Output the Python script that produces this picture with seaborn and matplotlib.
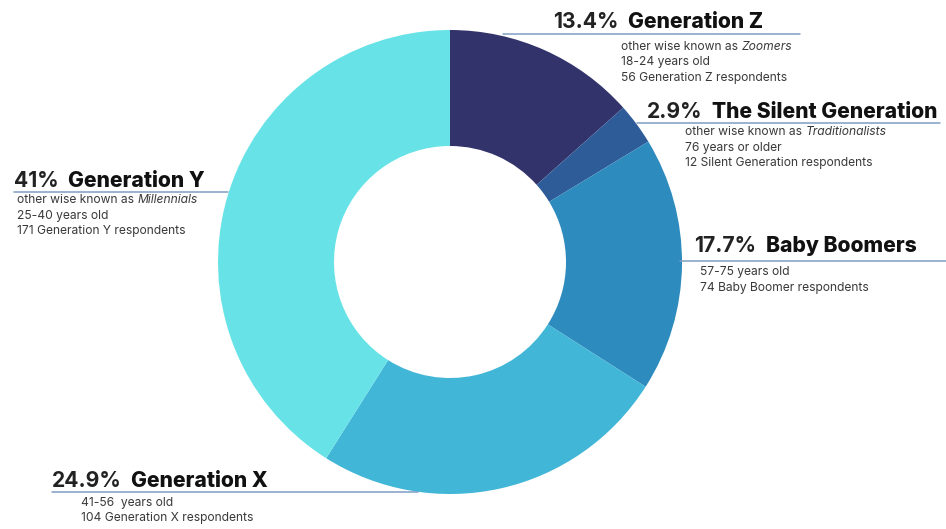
import numpy as np
import seaborn as sns
import matplotlib.pyplot as plt

# data
generations = ["Generation Z", "The Silent Generation", "Baby Boomers", "Generation X", "Generation Y"]
shares = [13.4, 2.9, 17.7, 24.9, 41.0]
share_labels = ["13.4%", "2.9%", "17.7%", "24.9%", "41%"]
aka = ["Zoomers", "Traditionalists", None, None, "Millennials"]
ages = ["18-24 years old", "76 years or older", "57-75 years old", "41-56  years old", "25-40 years old"]
respondents = ["56 Generation Z respondents", "12 Silent Generation respondents",
               "74 Baby Boomer respondents", "104 Generation X respondents",
               "171 Generation Y respondents"]
colors = ["#32336b", "#2e5c99", "#2e8bbd", "#41b6d7", "#67e3e8"]

# layout in pixels (x, header baseline y, sub x, first sub y, line x0, line x1, line y)
layout = [
    (553, 28, 621, 47, 503, 800, 34),
    (647, 118, 685, 132, 637, 940, 123),
    (694, 252, 700, 272, 680, 946, 261),
    (52, 487, 81, 503, 52, 418, 492),
    (14, 187, 17, 200, 14, 228, 192),
]

sns.set_theme(style="white")
plt.rcParams['font.family'] = ['Inter', 'DejaVu Sans']

W, H = 946, 529
fig = plt.figure(figsize=(W / 100, H / 100), dpi=100)
ax = fig.add_axes([0, 0, 1, 1])

ax.pie(shares, colors=sns.color_palette(colors), startangle=90, counterclock=False,
       center=(450, H - 262), radius=232, wedgeprops=dict(width=116, linewidth=0),
       frame=True)
ax.set_xlim(0, W)
ax.set_ylim(0, H)
ax.set_aspect('equal')
ax.axis('off')

line_col = "#7f9cc4"
sub_col = "#3a3a3a"
gap = 15.5

for i, name in enumerate(generations):
    hx, hy, sx, sy, lx0, lx1, ly = layout[i]
    ax.plot([lx0, lx1], [H - ly, H - ly], color=line_col, lw=1.1, zorder=1)
    pct = ax.text(hx, H - hy, share_labels[i], fontsize=15.2, fontweight='bold',
                  color="#222222", va='baseline', ha='left')
    ax.annotate(name, xy=(1, 0), xycoords=pct, xytext=(7, 0), textcoords='offset points',
                fontsize=15.2, fontweight='heavy', color="#111111", va='bottom', ha='left')
    lines = []
    if aka[i]:
        lines.append(("other wise known as ", aka[i]))
    lines.append((ages[i], None))
    lines.append((respondents[i], None))
    for j, (txt, ital) in enumerate(lines):
        t = ax.text(sx, H - (sy + j * gap), txt, fontsize=8.7, color=sub_col,
                    va='center', ha='left')
        if ital:
            ax.annotate(ital, xy=(1, 0), xycoords=t, xytext=(0, 0), textcoords='offset points',
                        fontsize=8.7, fontstyle='italic', color=sub_col, va='bottom', ha='left')

fig.savefig("out.png", dpi=100)
